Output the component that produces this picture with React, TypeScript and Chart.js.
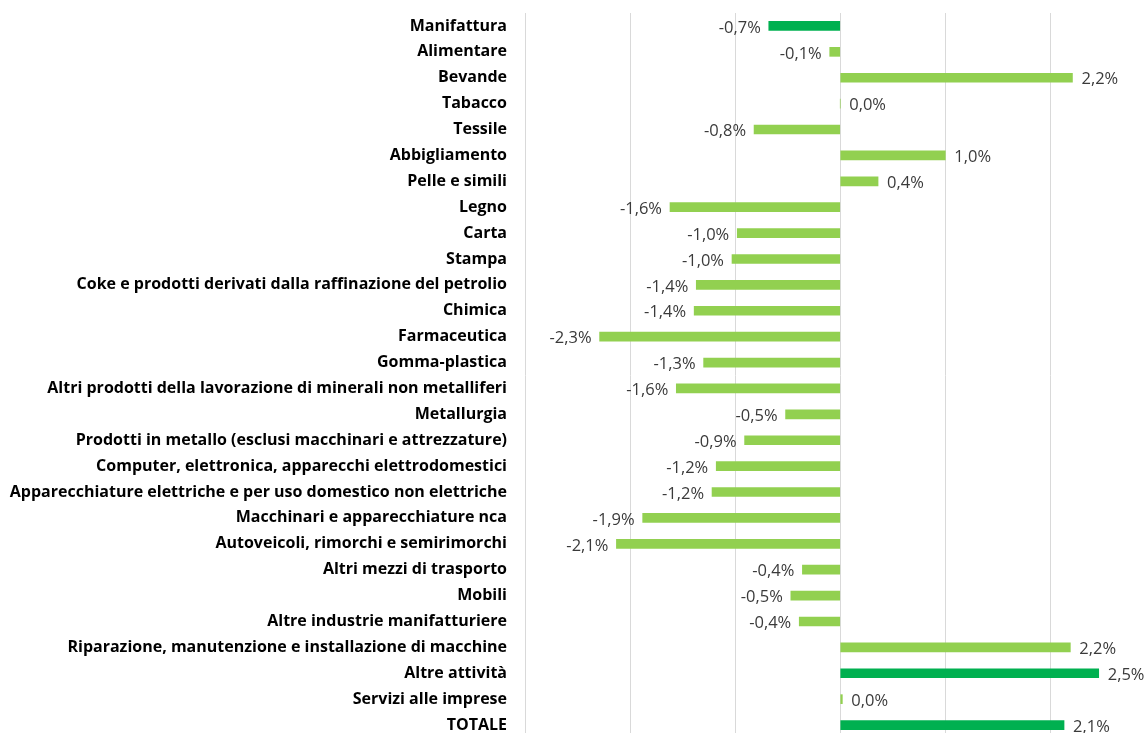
import React, { useEffect, useRef } from "react";
import { Chart, registerables } from "chart.js";

Chart.register(...registerables);

const categories = [
  "Manifattura",
  "Alimentare",
  "Bevande",
  "Tabacco",
  "Tessile",
  "Abbigliamento",
  "Pelle e simili",
  "Legno",
  "Carta",
  "Stampa",
  "Coke e prodotti derivati dalla raffinazione del petrolio",
  "Chimica",
  "Farmaceutica",
  "Gomma-plastica",
  "Altri prodotti della lavorazione di minerali non metalliferi",
  "Metallurgia",
  "Prodotti in metallo (esclusi macchinari e attrezzature)",
  "Computer, elettronica, apparecchi elettrodomestici",
  "Apparecchiature elettriche e per uso domestico non elettriche",
  "Macchinari e apparecchiature nca",
  "Autoveicoli, rimorchi e semirimorchi",
  "Altri mezzi di trasporto",
  "Mobili",
  "Altre industrie manifatturiere",
  "Riparazione, manutenzione e installazione di macchine",
  "Altre attività",
  "Servizi alle imprese",
  "TOTALE",
];

const values = [
  -0.68, -0.1, 2.21, 0.0, -0.82, 1.0, 0.36, -1.62, -0.98, -1.03, -1.37, -1.39,
  -2.29, -1.3, -1.56, -0.52, -0.91, -1.18, -1.22, -1.88, -2.13, -0.36, -0.47,
  -0.39, 2.19, 2.46, 0.02, 2.13,
];

const highlighted = ["Manifattura", "Altre attività", "TOTALE"];

const axisMin = -3;
const axisMax = 2.91;
const axisStep = 1;

const LIGHT = "#92D050";
const DARK = "#00B050";
const FONT = "'Open Sans'";

const fmt = (v: number) => v.toFixed(1).replace(".", ",") + "%";

const dataLabels = {
  id: "dataLabels",
  afterDatasetsDraw(chart: any) {
    const ctx = chart.ctx;
    const meta = chart.getDatasetMeta(0);
    ctx.save();
    ctx.font = "16.5px " + FONT;
    ctx.fillStyle = "#3a3a3a";
    ctx.textBaseline = "middle";
    meta.data.forEach((bar: any, i: number) => {
      const v = values[i];
      const txt = fmt(v);
      if (v < 0) {
        ctx.textAlign = "right";
        ctx.fillText(txt, bar.x - 8, bar.y + 2);
      } else {
        ctx.textAlign = "left";
        ctx.fillText(txt, bar.x + 9, bar.y + 2);
      }
    });
    ctx.restore();
  },
};

export default function App() {
  const ref = useRef<HTMLCanvasElement | null>(null);

  useEffect(() => {
    if (!ref.current) return;
    const chart = new Chart(ref.current, {
      type: "bar",
      data: {
        labels: categories,
        datasets: [
          {
            data: values,
            backgroundColor: categories.map((c) =>
              highlighted.includes(c) ? DARK : LIGHT
            ),
            borderWidth: 0,
            barThickness: 9,
          },
        ],
      },
      options: {
        indexAxis: "y",
        animation: false,
        responsive: false,
        maintainAspectRatio: false,
        layout: { padding: { top: 13, right: 0, bottom: 0, left: 0 } },
        plugins: {
          legend: { display: false },
          tooltip: { enabled: false },
        },
        scales: {
          x: {
            min: axisMin,
            max: axisMax,
            ticks: { display: false, stepSize: axisStep, includeBounds: false },
            grid: { color: "#D9D9D9", drawTicks: false, lineWidth: 1 },
            border: { display: false },
          },
          y: {
            ticks: {
              autoSkip: false,
              color: "#000000",
              padding: 18,
              font: { family: FONT, weight: "bold", size: 16 },
            },
            grid: { display: false, drawTicks: false },
            border: { display: false },
            afterFit: (s: any) => {
              s.width = 525;
              s.paddingTop = 0;
              s.paddingBottom = 0;
            },
          },
        },
      },
      plugins: [dataLabels],
    } as any);
    return () => chart.destroy();
  }, []);

  return (
    <div
      style={{
        position: "fixed",
        left: 0,
        top: 0,
        width: 1146,
        height: 733,
        overflow: "hidden",
        background: "#ffffff",
      }}
    >
      <canvas ref={ref} width={1146} height={738} style={{ display: "block" }} />
    </div>
  );
}
